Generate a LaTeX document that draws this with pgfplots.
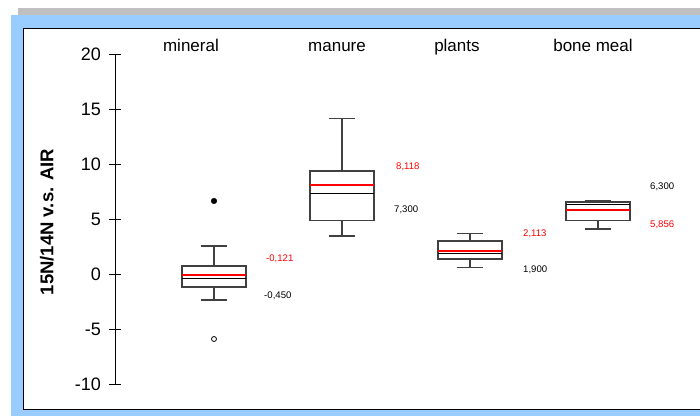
\documentclass[border=0pt]{standalone}
\usepackage{fontspec}
\setmainfont{Liberation Sans}
\usepackage{pgfplots}
\pgfplotsset{compat=1.18}
\usepgfplotslibrary{statistics}
\definecolor{bgblue}{HTML}{99CCFF}
\definecolor{bggray}{HTML}{C0C0C0}
\definecolor{boxgray}{HTML}{404040}
\begin{document}
\begin{tikzpicture}[x=1pt,y=1pt]
\useasboundingbox (0,0) rectangle (700,416);
\fill[bggray] (18,401) rectangle (700,408);
\fill[bgblue] (11,0) rectangle (700,401);
\filldraw[fill=white, draw=black, line width=1pt] (23.5,6.5) rectangle (710,387.5);
\begin{axis}[
  at={(115pt,32pt)}, anchor=south west,
  scale only axis, x=128pt, y=11pt,
  xmin=0.2266, xmax=4.7, ymin=-10, ymax=20,
  axis x line=none, axis y line*=left,
  clip=false,
  ytick={-10,-5,0,5,10,15,20},
  tick align=center, major tick length=11pt,
  tick style={black, line width=0.8pt},
  axis line style={black, line width=0.8pt},
  /pgf/number format/assume math mode=true,
  yticklabel style={font=\fontsize{18}{21}\selectfont, xshift=-5pt},
  ylabel={15N/14N v.s. AIR},
  ylabel style={at={(axis description cs:-0.1188,0.491)}, anchor=center, font=\bfseries\fontsize{18.5}{22}\selectfont},
  boxplot/draw direction=y,
  boxplot/box extend=0.5,
  boxplot/whisker extend=0.21,
  boxplot/draw/median/.code={\draw[black, line width=1pt] (boxplot box cs:\pgfplotsboxplotvalue{median},0) -- (boxplot box cs:\pgfplotsboxplotvalue{median},1);},
  boxplot/draw/average/.code={\draw[red, line width=2pt] (boxplot box cs:\pgfplotsboxplotvalue{average},0) -- (boxplot box cs:\pgfplotsboxplotvalue{average},1);},
]
% mineral
\addplot[draw=boxgray, line width=1.2pt, fill=white, boxplot prepared={draw position=1, lower whisker=-2.36, lower quartile=-1.18, median=-0.450, upper quartile=0.73, upper whisker=2.55, average=-0.121}] coordinates {};
% manure
\addplot[draw=boxgray, line width=1.2pt, fill=white, boxplot prepared={draw position=2, lower whisker=3.45, lower quartile=4.9, median=7.300, upper quartile=9.36, upper whisker=14.1, average=8.118}] coordinates {};
% plants
\addplot[draw=boxgray, line width=1.2pt, fill=white, boxplot prepared={draw position=3, lower whisker=0.6, lower quartile=1.36, median=1.900, upper quartile=3.0, upper whisker=3.7, average=2.113}] coordinates {};
% bone meal
\addplot[draw=boxgray, line width=1.2pt, fill=white, boxplot prepared={draw position=4, lower whisker=4.1, lower quartile=4.9, median=6.300, upper quartile=6.55, upper whisker=6.7, average=5.856}] coordinates {};
% outliers
\addplot[only marks, mark=*, mark size=2.8pt, black] coordinates {(1,6.64)};
\addplot[only marks, mark=o, mark size=2.5pt, black, line width=0.8pt] coordinates {(1,-5.91)};
% category labels
\node[anchor=base, font=\fontsize{17}{20}\selectfont] at (axis cs:0.820,20.23) {mineral};
\node[anchor=base, font=\fontsize{17}{20}\selectfont] at (axis cs:1.961,20.23) {manure};
\node[anchor=base, font=\fontsize{17}{20}\selectfont] at (axis cs:2.898,20.23) {plants};
\node[anchor=base, font=\fontsize{17}{20}\selectfont] at (axis cs:3.961,20.23) {bone meal};
% value labels
\node[anchor=west, inner sep=0pt, text=red, font=\fontsize{9.6}{11}\selectfont] at (axis cs:1.406,1.364) {-0,121};
\node[anchor=west, inner sep=0pt, font=\fontsize{9.6}{11}\selectfont] at (axis cs:1.391,-2.0) {-0,450};
\node[anchor=west, inner sep=0pt, text=red, font=\fontsize{9.6}{11}\selectfont] at (axis cs:2.422,9.727) {8,118};
\node[anchor=west, inner sep=0pt, font=\fontsize{9.6}{11}\selectfont] at (axis cs:2.406,5.818) {7,300};
\node[anchor=west, inner sep=0pt, text=red, font=\fontsize{9.6}{11}\selectfont] at (axis cs:3.414,3.636) {2,113};
\node[anchor=west, inner sep=0pt, font=\fontsize{9.6}{11}\selectfont] at (axis cs:3.414,0.364) {1,900};
\node[anchor=west, inner sep=0pt, font=\fontsize{9.6}{11}\selectfont] at (axis cs:4.406,7.909) {6,300};
\node[anchor=west, inner sep=0pt, text=red, font=\fontsize{9.6}{11}\selectfont] at (axis cs:4.406,4.455) {5,856};
\end{axis}
\end{tikzpicture}
\end{document}
